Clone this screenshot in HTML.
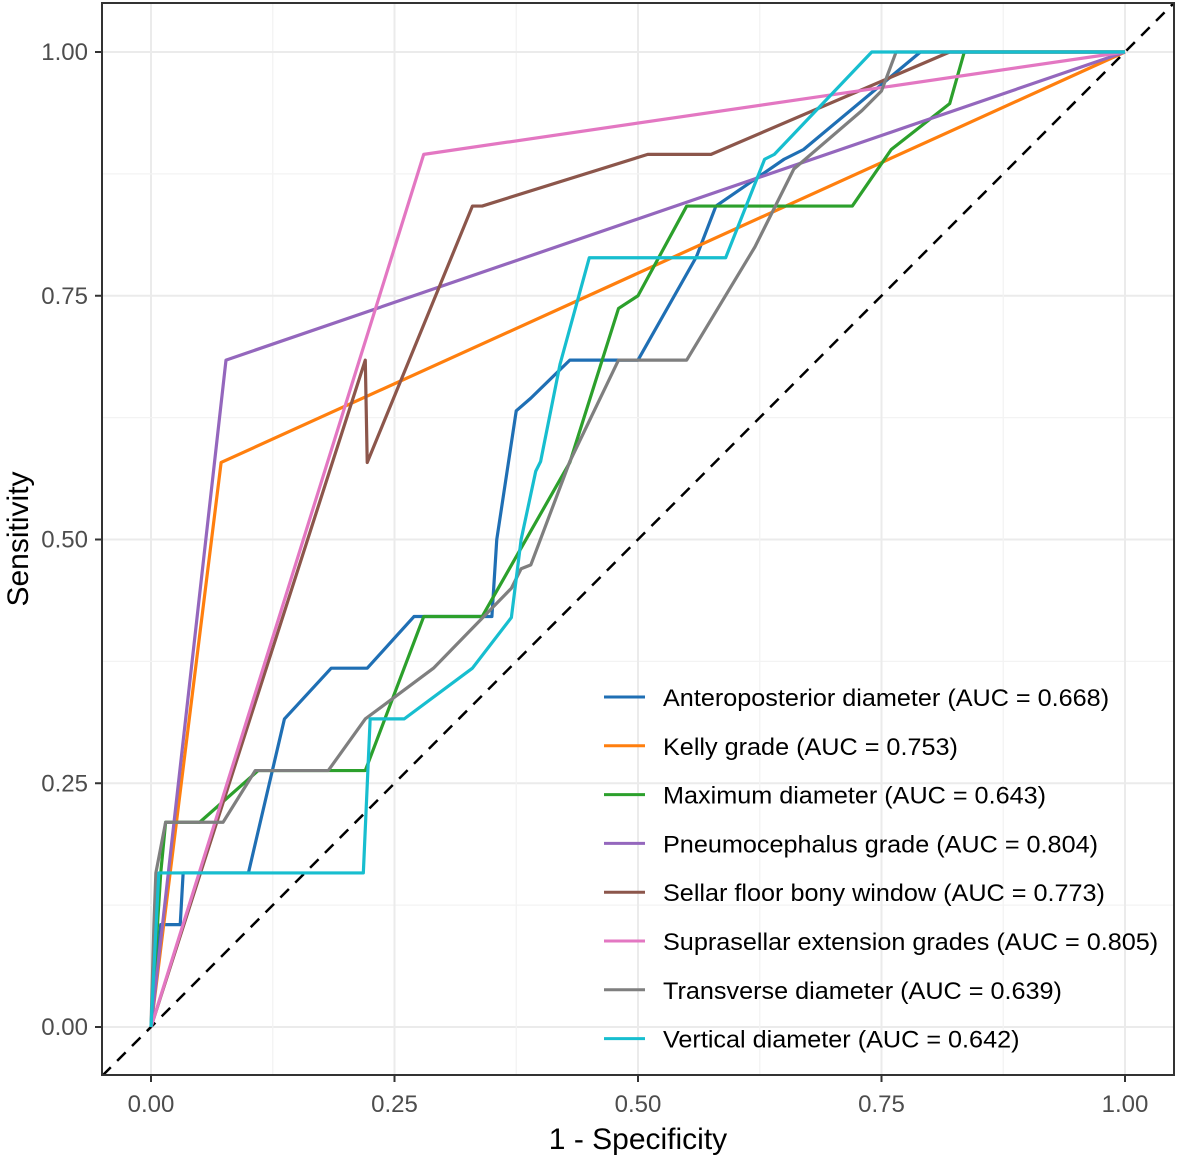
<!DOCTYPE html>
<html><head><meta charset="utf-8"><style>
body{margin:0;background:#fff;}
svg text{font-family:"Liberation Sans",Arial,sans-serif;}
</style></head><body>
<svg id="chart" width="1181" height="1160" xmlns="http://www.w3.org/2000/svg"></svg>
<script>
const tickLabels=["0.00","0.25","0.50","0.75","1.00"];
const tickValues=[0,0.25,0.5,0.75,1];
const seriesNames=["Anteroposterior diameter (AUC = 0.668)","Kelly grade (AUC = 0.753)","Maximum diameter (AUC = 0.643)","Pneumocephalus grade (AUC = 0.804)","Sellar floor bony window (AUC = 0.773)","Suprasellar extension grades (AUC = 0.805)","Transverse diameter (AUC = 0.639)","Vertical diameter (AUC = 0.642)"];
const seriesColors=["#1f6fb4","#ff7f0e","#2ca02c","#9467bd","#8c564b","#e377c2","#7f7f7f","#17becf"];
const apFpr=[0,0.01,0.03,0.033,0.1,0.137,0.185,0.222,0.27,0.35,0.355,0.375,0.39,0.43,0.5,0.56,0.58,0.65,0.67,0.79,1];
const apTpr=[0,0.105,0.105,0.158,0.158,0.316,0.368,0.368,0.421,0.421,0.5,0.632,0.645,0.684,0.684,0.79,0.842,0.89,0.9,1,1];
const kgFpr=[0,0.072,1];
const kgTpr=[0,0.579,1];
const mdFpr=[0,0.01,0.015,0.05,0.11,0.22,0.28,0.34,0.43,0.48,0.5,0.55,0.72,0.76,0.82,0.835,1];
const mdTpr=[0,0.158,0.21,0.21,0.263,0.263,0.421,0.421,0.579,0.737,0.75,0.842,0.842,0.9,0.947,1,1];
const pgFpr=[0,0.077,1];
const pgTpr=[0,0.684,1];
const sfFpr=[0,0.22,0.222,0.33,0.34,0.51,0.575,0.82,1];
const sfTpr=[0,0.684,0.579,0.842,0.842,0.895,0.895,1,1];
const seFpr=[0,0.28,1];
const seTpr=[0,0.895,1];
const tdFpr=[0,0.003,0.005,0.015,0.074,0.107,0.182,0.22,0.29,0.37,0.38,0.39,0.43,0.48,0.55,0.62,0.66,0.73,0.75,0.765,1];
const tdTpr=[0,0.105,0.158,0.21,0.21,0.263,0.263,0.316,0.368,0.45,0.47,0.474,0.58,0.684,0.684,0.8,0.88,0.94,0.96,1,1];
const vdFpr=[0,0.008,0.218,0.225,0.26,0.33,0.37,0.38,0.395,0.4,0.42,0.45,0.59,0.63,0.64,0.74,1];
const vdTpr=[0,0.158,0.158,0.316,0.316,0.368,0.42,0.5,0.57,0.58,0.68,0.789,0.789,0.89,0.895,1,1];
const seriesFpr=[apFpr,kgFpr,mdFpr,pgFpr,sfFpr,seFpr,tdFpr,vdFpr];
const seriesTpr=[apTpr,kgTpr,mdTpr,pgTpr,sfTpr,seTpr,tdTpr,vdTpr];

const NS="http://www.w3.org/2000/svg";
const svg=document.getElementById('chart');
const L=102,R=1174,T=3,B=1075;
const sx=v=>151+v*974, sy=v=>1027-v*975;
function mk(tag,attrs,parent){const e=document.createElementNS(NS,tag);for(const k in attrs)e.setAttribute(k,attrs[k]);(parent||svg).appendChild(e);return e;}
const grid=mk('g',{});


for(let i=0;i<tickValues.length;i++){
  mk('line',{x1:sx(tickValues[i]),x2:sx(tickValues[i]),y1:T,y2:B,stroke:'#ebebeb','stroke-width':2},grid);
  mk('line',{x1:L,x2:R,y1:sy(tickValues[i]),y2:sy(tickValues[i]),stroke:'#ebebeb','stroke-width':2},grid);
  if(i<4){const m=(tickValues[i]+tickValues[i+1])/2;
  mk('line',{x1:sx(m),x2:sx(m),y1:T,y2:B,stroke:'#f3f3f3','stroke-width':1.2},grid);
  mk('line',{x1:L,x2:R,y1:sy(m),y2:sy(m),stroke:'#f3f3f3','stroke-width':1.2},grid);}
}
const clip=mk('clipPath',{id:'pc'});mk('rect',{x:L,y:T,width:R-L,height:B-T},clip);
const diag=mk('line',{x1:sx(-0.05),y1:sy(-0.05),x2:sx(1.05),y2:sy(1.05),stroke:'#000','stroke-width':2.5,'stroke-dasharray':'12,9','clip-path':'url(#pc)'});


const keys=["ap","kelly","maximum","pneumo","sellar","suprasellar","transverse","vertical"];
for(let s=0;s<seriesNames.length;s++){
  const pts=seriesFpr[s].map((f,i)=>sx(f)+','+sy(seriesTpr[s][i])).join(' ');
  const pl=mk('polyline',{points:pts,fill:'none',stroke:seriesColors[s],'stroke-width':3.2,'stroke-linejoin':'round'});
  
  
}
const frame=mk('rect',{x:L,y:T,width:R-L,height:B-T,fill:'none',stroke:'#333','stroke-width':2});


for(let i=0;i<tickValues.length;i++){
  mk('line',{x1:sx(tickValues[i]),x2:sx(tickValues[i]),y1:B,y2:B+7,stroke:'#333','stroke-width':2});
  const tx=mk('text',{x:sx(tickValues[i]),y:B+37,'text-anchor':'middle','font-size':24,fill:'#4d4d4d'});tx.textContent=tickLabels[i];
  
  
  mk('line',{x1:L-7,x2:L,y1:sy(tickValues[i]),y2:sy(tickValues[i]),stroke:'#333','stroke-width':2});
  const ty=mk('text',{x:L-14,y:sy(tickValues[i])+8,'text-anchor':'end','font-size':24,fill:'#4d4d4d'});ty.textContent=tickLabels[i];
  
  
}
const xt=mk('text',{x:638,y:1149,'text-anchor':'middle','font-size':30,fill:'#000'});xt.textContent='1 - Specificity';


const yt=mk('text',{x:0,y:0,'text-anchor':'middle','font-size':30,fill:'#000',transform:'translate(28,539) rotate(-90)'});yt.textContent='Sensitivity';


const lg=mk('g',{});


for(let s=0;s<seriesNames.length;s++){
  const y=697+s*48.8;
  const e=mk('g',{},lg);
  
  
  mk('line',{x1:604,x2:645,y1:y,y2:y,stroke:seriesColors[s],'stroke-width':3},e);
  const t=mk('text',{x:663,y:y+9,'font-size':24,fill:'#000'},e);t.textContent=seriesNames[s];
  const w=t.getComputedTextLength();
  t.setAttribute('textLength',(w*1.05).toFixed(1));
  t.setAttribute('lengthAdjust','spacingAndGlyphs');
}
</script>
</body></html>
